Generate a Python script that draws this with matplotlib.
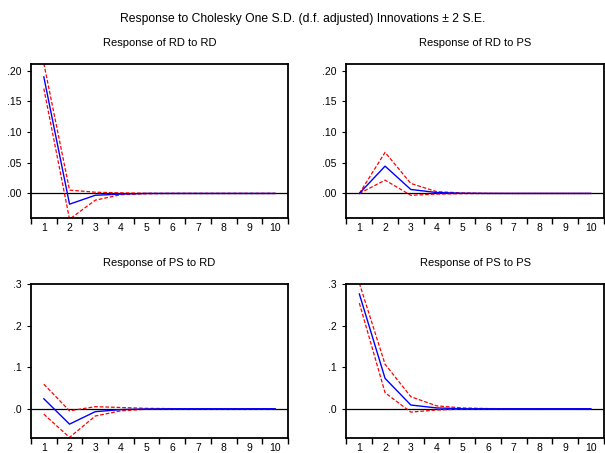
"""Impulse responses: Cholesky one S.D. innovations +/- 2 S.E."""
import matplotlib
matplotlib.use('Agg')
import matplotlib.pyplot as plt
import numpy as np
from matplotlib.ticker import FixedLocator

plt.rcParams.update({
    'font.family': ['Liberation Sans', 'DejaVu Sans'],
    'font.size': 8,
})

periods = np.arange(1, 11)

# response of RD to RD
rd_rd = [0.190, -0.0175, -0.003, -0.001, 0.0, 0.0, 0.0, 0.0, 0.0, 0.0]
rd_rd_hi = [0.212, 0.0054, 0.002, 0.001, 0.0003, 0.0, 0.0, 0.0, 0.0, 0.0]
rd_rd_lo = [0.171, -0.042, -0.011, -0.002, -0.0005, 0.0, 0.0, 0.0, 0.0, 0.0]

# response of RD to PS
rd_ps = [0.0, 0.0445, 0.0065, 0.0015, 0.0003, 0.0, 0.0, 0.0, 0.0, 0.0]
rd_ps_hi = [0.0, 0.067, 0.0163, 0.003, 0.0008, 0.0002, 0.0, 0.0, 0.0, 0.0]
rd_ps_lo = [0.0, 0.0217, -0.003, -0.001, -0.0003, 0.0, 0.0, 0.0, 0.0, 0.0]

# response of PS to RD
ps_rd = [0.024, -0.037, -0.007, -0.002, -0.0005, 0.0, 0.0, 0.0, 0.0, 0.0]
ps_rd_hi = [0.059, -0.005, 0.005, 0.003, 0.001, 0.0003, 0.0, 0.0, 0.0, 0.0]
ps_rd_lo = [-0.013, -0.069, -0.0175, -0.005, -0.001, -0.0003, 0.0, 0.0, 0.0, 0.0]

# response of PS to PS
ps_ps = [0.276, 0.073, 0.009, 0.002, 0.0, 0.0, 0.0, 0.0, 0.0, 0.0]
ps_ps_hi = [0.302, 0.107, 0.029, 0.007, 0.002, 0.0005, 0.0, 0.0, 0.0, 0.0]
ps_ps_lo = [0.254, 0.0385, -0.008, -0.003, -0.001, -0.0003, 0.0, 0.0, 0.0, 0.0]

top_ticks = [0.0, 0.05, 0.10, 0.15, 0.20]
top_labels = ['.00', '.05', '.10', '.15', '.20']
bot_ticks = [0.0, 0.1, 0.2, 0.3]
bot_labels = ['.0', '.1', '.2', '.3']

panels = [
    ('Response of RD to RD', rd_rd, rd_rd_hi, rd_rd_lo, (-0.040, 0.211), top_ticks, top_labels),
    ('Response of RD to PS', rd_ps, rd_ps_hi, rd_ps_lo, (-0.040, 0.211), top_ticks, top_labels),
    ('Response of PS to RD', ps_rd, ps_rd_hi, ps_rd_lo, (-0.071, 0.300), bot_ticks, bot_labels),
    ('Response of PS to PS', ps_ps, ps_ps_hi, ps_ps_lo, (-0.071, 0.300), bot_ticks, bot_labels),
]

fig = plt.figure(figsize=(6.05, 4.53), dpi=100)
rects = [
    [0.0512, 0.5188, 0.4248, 0.3399],
    [0.5727, 0.5188, 0.4253, 0.3399],
    [0.0512, 0.0325, 0.4248, 0.3406],
    [0.5727, 0.0325, 0.4253, 0.3406],
]

for rect, (title, mid, hi, lo, ylim, yt, yl) in zip(rects, panels):
    ax = fig.add_axes(rect)
    ax.axhline(0, color='black', lw=0.9, zorder=1)
    ax.plot(periods, mid, color='#0000ff', lw=1.0, zorder=3)
    ax.plot(periods, hi, color='#ff0000', lw=0.9, ls=(0, (3, 1.5)), zorder=2)
    ax.plot(periods, lo, color='#ff0000', lw=0.9, ls=(0, (3, 1.5)), zorder=2)
    ax.set_xlim(0.5, 10.5)
    ax.set_ylim(*ylim)
    ax.set_xticks(periods)
    ax.set_xticklabels([str(p) for p in periods])
    ax.xaxis.set_minor_locator(FixedLocator(np.arange(0.5, 11, 1.0)))
    ax.tick_params(axis='x', which='major', length=0, pad=3.5, labelsize=7.5)
    ax.tick_params(axis='x', which='minor', length=4, width=1.0, direction='out')
    ax.set_yticks(yt)
    ax.set_yticklabels(yl)
    ax.tick_params(axis='y', length=3, width=0.8, direction='out', pad=4, labelsize=7.5)
    for sp in ax.spines.values():
        sp.set_linewidth(1.3)
    ax.set_title(title, fontsize=8, pad=13)

fig.suptitle('Response to Cholesky One S.D. (d.f. adjusted) Innovations \u00b1 2 S.E.',
             fontsize=8.7, y=0.972)

fig.savefig('out.png', dpi=100)
